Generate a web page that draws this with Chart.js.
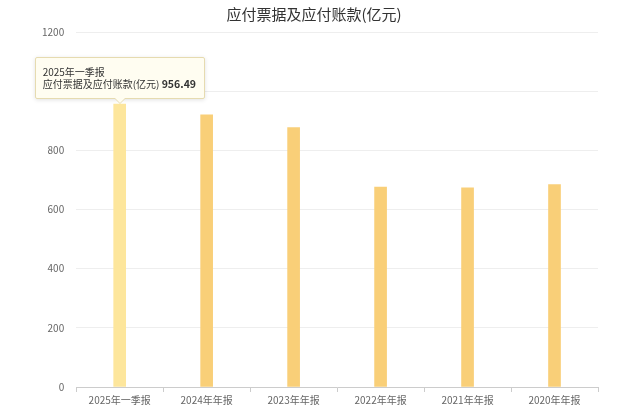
<!DOCTYPE html>
<html>
<head>
<meta charset="utf-8">
<script src="https://cdn.jsdelivr.net/npm/chart.js@4.4.1/dist/chart.umd.min.js"></script>
<style>
  html, body { margin: 0; padding: 0; background: #fff; }
  #wrap { position: relative; width: 640px; height: 414px; }
  #tip {
    position: absolute; pointer-events: none; white-space: nowrap;
    background: #fffdf1; border: 1px solid #e6dbb0; border-radius: 2px;
    box-shadow: 0 1px 4px rgba(0,0,0,0.12);
    padding: 8px 8px 8px 7px; color: #333;
    font: 10px "Noto Sans CJK SC", sans-serif; line-height: 12px;
  }
  #tip b { font-weight: bold; font-size: 10.5px; }
  #tip:after, #tip:before {
    content: ""; position: absolute; left: 50%; top: 100%;
    border: solid transparent; width: 0; height: 0;
  }
  #tip:before { border-top-color: #e6dbb0; border-width: 6px; margin-left: -6px; }
  #tip:after { border-top-color: #fffdf1; border-width: 5px; margin-left: -5px; }
</style>
</head>
<body>
<div id="wrap">
  <canvas id="chart" width="640" height="414"></canvas>
  <div id="tip" style="display:none"></div>
</div>
<script>
const categories = ["2025年一季报", "2024年年报", "2023年年报", "2022年年报", "2021年年报", "2020年年报"];
const payables = [956.49, 920, 877, 676, 673, 684];
const yTicks = [0, 200, 400, 600, 800, 1000, 1200];
const seriesName = "应付票据及应付账款(亿元)";

const FONT = '"Noto Sans CJK SC", sans-serif';

function externalTip(context) {
  const tip = document.getElementById("tip");
  const model = context.tooltip;
  if (model.opacity === 0) { tip.style.display = "none"; return; }
  const i = model.dataPoints[0].dataIndex;
  tip.innerHTML = categories[i] + "<br>" + seriesName + " <b>" + payables[i].toFixed(2) + "</b>";
  tip.style.display = "block";
  const w = tip.offsetWidth, h = tip.offsetHeight;
  tip.style.left = (model.caretX - w / 2) + "px";
  tip.style.top = (model.caretY - h - 5) + "px";
}

const chart = new Chart(document.getElementById("chart").getContext("2d"), {
  type: "bar",
  data: {
    labels: categories,
    datasets: [{
      label: seriesName,
      data: payables,
      backgroundColor: payables.map((v, i) => i === 0 ? "#fde69c" : "#f9cf78"),
      hoverBackgroundColor: payables.map((v, i) => i === 0 ? "#fde69c" : "#f9cf78"),
      barThickness: 12,
      borderWidth: 0,
    }],
  },
  options: {
    responsive: false,
    animation: false,
    events: [],
    layout: { padding: { left: 30, right: 42, top: 0, bottom: 6 } },
    plugins: {
      legend: { display: false },
      title: {
        display: true,
        text: seriesName,
        color: "#333",
        font: { family: FONT, size: 15, weight: "normal" },
        padding: { top: 5, bottom: 9 },
      },
      tooltip: { enabled: false, external: externalTip, yAlign: "bottom" },
    },
    scales: {
      x: {
        offset: true,
        grid: { display: true, drawOnChartArea: false, tickLength: 5, color: "#ccc" },
        border: { color: "#ccc" },
        ticks: { color: "#666", padding: 2, font: { family: FONT, size: 10 } },
      },
      y: {
        min: 0,
        max: 1200,
        afterBuildTicks: (axis) => { axis.ticks = yTicks.map(v => ({ value: v })); },
        grid: { color: "#eee", drawTicks: false },
        border: { display: false },
        ticks: {
          color: "#666", padding: 12, autoSkip: false,
          font: { family: FONT, size: 10 },
          callback: (v) => String(v),
        },
      },
    },
  },
});

chart.tooltip.setActiveElements([{ datasetIndex: 0, index: 0 }], { x: 0, y: 0 });
chart.update();
</script>
</body>
</html>
